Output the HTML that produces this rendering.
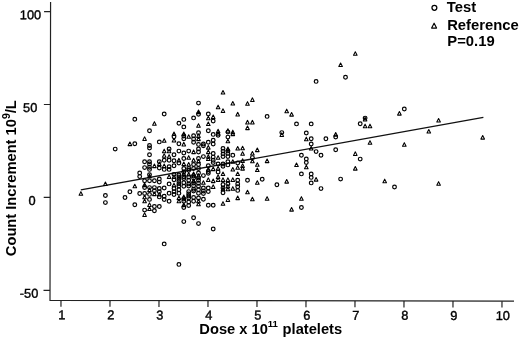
<!DOCTYPE html>
<html><head><meta charset="utf-8"><style>
html,body{margin:0;padding:0;background:#fff;overflow:hidden;}
svg{display:block;will-change:transform;}
text{font-family:"Liberation Sans",sans-serif;fill:#000;}
</style></head><body>
<svg width="520" height="339" viewBox="0 0 520 339">
<defs>
<circle id="c" r="1.85" fill="none" stroke="#000" stroke-width="1.2"/>
<path id="t" d="M0,-1.95 L1.8,1.6 L-1.8,1.6 Z" fill="none" stroke="#000" stroke-width="1.05" stroke-linejoin="round"/>
</defs>

<g transform="rotate(0.11 50 300.3)"><g stroke="#222" stroke-width="1.2" fill="none">
<path d="M50,2 V300.3 H514"/>
<path d="M43.5,11.7 H50"/>
<path d="M43.5,104.5 H50"/>
<path d="M43.5,197.4 H50"/>
<path d="M43.5,290.3 H50"/>
<path d="M61.0,300.3 V306.7"/>
<path d="M110.0,300.3 V306.7"/>
<path d="M159.0,300.3 V306.7"/>
<path d="M208.0,300.3 V306.7"/>
<path d="M257.0,300.3 V306.7"/>
<path d="M306.0,300.3 V306.7"/>
<path d="M355.0,300.3 V306.7"/>
<path d="M404.0,300.3 V306.7"/>
<path d="M453.0,300.3 V306.7"/>
<path d="M502.0,300.3 V306.7"/>
</g>
<g font-size="12.8" stroke="#000" stroke-width="0.4">
<text x="30" y="19.3" text-anchor="middle">100</text>
<text x="29.8" y="112.1" text-anchor="middle">50</text>
<text x="32" y="205.0" text-anchor="middle">0</text>
<text x="29" y="297.9" text-anchor="middle">-50</text>
<text x="61.9" y="319.2" text-anchor="middle">1</text>
<text x="110.9" y="319.2" text-anchor="middle">2</text>
<text x="159.9" y="319.2" text-anchor="middle">3</text>
<text x="208.9" y="319.2" text-anchor="middle">4</text>
<text x="257.9" y="319.2" text-anchor="middle">5</text>
<text x="306.9" y="319.2" text-anchor="middle">6</text>
<text x="355.9" y="319.2" text-anchor="middle">7</text>
<text x="404.9" y="319.2" text-anchor="middle">8</text>
<text x="453.9" y="319.2" text-anchor="middle">9</text>
<text x="502.9" y="319.2" text-anchor="middle">10</text>
</g></g>
<g font-size="14.7" font-weight="bold">
<text x="199.3" y="334.4">Dose x 10</text>
<text x="267.8" y="326.8" font-size="9.6">11</text>
<text x="282.6" y="334.4">platelets</text>
<text transform="translate(16.3,256.2) rotate(-90)">Count Increment 10<tspan font-size="10.4" dy="-6.6">9</tspan><tspan dy="6.6">/L</tspan></text>
</g>
<circle cx="434.4" cy="7.8" r="2.45" fill="none" stroke="#000" stroke-width="1.25"/>
<path transform="translate(434.1,25.9) scale(1.3)" d="M0,-2.05 L1.9,1.65 L-1.9,1.65 Z" fill="none" stroke="#000" stroke-width="0.9" stroke-linejoin="round"/>
<g font-size="14.8" font-weight="bold"><text x="446.8" y="11.5">Test</text><text x="447.2" y="29.8">Reference</text><text x="447.3" y="46.4">P=0.19</text></g>
<path d="M80.8,189.9 L483.4,117.3" stroke="#111" stroke-width="1.35" fill="none"/>
<g>
<use href="#c" x="134.8" y="119.3"/>
<use href="#c" x="164.2" y="114"/>
<use href="#c" x="198.5" y="103.1"/>
<use href="#c" x="198.5" y="114.2"/>
<use href="#c" x="193.6" y="117.9"/>
<use href="#c" x="208.3" y="113.9"/>
<use href="#c" x="183.8" y="119.4"/>
<use href="#c" x="316.1" y="81.4"/>
<use href="#c" x="345.5" y="77.3"/>
<use href="#c" x="267.1" y="116.4"/>
<use href="#c" x="404.3" y="109"/>
<use href="#c" x="365.1" y="118.1"/>
<use href="#c" x="149.5" y="130.7"/>
<use href="#c" x="134.8" y="143.7"/>
<use href="#c" x="159.3" y="141.9"/>
<use href="#c" x="178.9" y="123.2"/>
<use href="#c" x="183.8" y="126.9"/>
<use href="#c" x="198.5" y="132.7"/>
<use href="#c" x="174.0" y="136.7"/>
<use href="#c" x="183.8" y="136"/>
<use href="#c" x="183.8" y="138.8"/>
<use href="#c" x="193.6" y="135.8"/>
<use href="#c" x="193.6" y="139"/>
<use href="#c" x="193.6" y="142.2"/>
<use href="#c" x="178.9" y="143.7"/>
<use href="#c" x="198.5" y="144.4"/>
<use href="#c" x="213.2" y="121"/>
<use href="#c" x="208.3" y="130.7"/>
<use href="#c" x="213.2" y="134.4"/>
<use href="#c" x="218.1" y="135.3"/>
<use href="#c" x="227.9" y="132.1"/>
<use href="#c" x="227.9" y="137.1"/>
<use href="#c" x="208.3" y="142.2"/>
<use href="#c" x="213.2" y="140.3"/>
<use href="#c" x="213.2" y="144"/>
<use href="#c" x="203.4" y="144"/>
<use href="#c" x="296.5" y="123.9"/>
<use href="#c" x="311.2" y="123.9"/>
<use href="#c" x="281.8" y="132.6"/>
<use href="#c" x="306.3" y="133"/>
<use href="#c" x="311.2" y="138.8"/>
<use href="#c" x="311.2" y="144"/>
<use href="#c" x="360.2" y="123.8"/>
<use href="#c" x="325.9" y="138.8"/>
<use href="#c" x="335.7" y="137"/>
<use href="#c" x="149.5" y="145.5"/>
<use href="#c" x="149.5" y="148"/>
<use href="#c" x="149.5" y="154.8"/>
<use href="#c" x="144.6" y="161.7"/>
<use href="#c" x="149.5" y="161.7"/>
<use href="#c" x="149.5" y="164"/>
<use href="#c" x="149.5" y="167.2"/>
<use href="#c" x="149.5" y="169.4"/>
<use href="#c" x="144.6" y="167.6"/>
<use href="#c" x="159.3" y="161.7"/>
<use href="#c" x="159.3" y="168"/>
<use href="#c" x="115.2" y="149.1"/>
<use href="#c" x="164.2" y="160.3"/>
<use href="#c" x="164.2" y="169.4"/>
<use href="#c" x="169.1" y="148.9"/>
<use href="#c" x="169.1" y="160.3"/>
<use href="#c" x="169.1" y="166.7"/>
<use href="#c" x="169.1" y="169.4"/>
<use href="#c" x="174.0" y="154.8"/>
<use href="#c" x="174.0" y="160.8"/>
<use href="#c" x="174.0" y="165.8"/>
<use href="#c" x="178.9" y="151.1"/>
<use href="#c" x="178.9" y="163"/>
<use href="#c" x="183.8" y="153"/>
<use href="#c" x="183.8" y="158.5"/>
<use href="#c" x="183.8" y="168.5"/>
<use href="#c" x="188.7" y="151.1"/>
<use href="#c" x="188.7" y="168.5"/>
<use href="#c" x="193.6" y="164.4"/>
<use href="#c" x="193.6" y="168.5"/>
<use href="#c" x="198.5" y="148.9"/>
<use href="#c" x="198.5" y="152"/>
<use href="#c" x="198.5" y="158.5"/>
<use href="#c" x="198.5" y="164.4"/>
<use href="#c" x="198.5" y="168.5"/>
<use href="#c" x="203.4" y="145.7"/>
<use href="#c" x="203.4" y="156.6"/>
<use href="#c" x="208.3" y="165.8"/>
<use href="#c" x="213.2" y="153.4"/>
<use href="#c" x="213.2" y="157.1"/>
<use href="#c" x="213.2" y="160.3"/>
<use href="#c" x="213.2" y="162.6"/>
<use href="#c" x="218.1" y="164"/>
<use href="#c" x="223.0" y="148.4"/>
<use href="#c" x="223.0" y="151.1"/>
<use href="#c" x="223.0" y="153.9"/>
<use href="#c" x="223.0" y="156.6"/>
<use href="#c" x="223.0" y="164"/>
<use href="#c" x="223.0" y="166.2"/>
<use href="#c" x="227.9" y="151.1"/>
<use href="#c" x="227.9" y="153.4"/>
<use href="#c" x="227.9" y="156.6"/>
<use href="#c" x="227.9" y="161.7"/>
<use href="#c" x="227.9" y="164.9"/>
<use href="#c" x="232.8" y="155.3"/>
<use href="#c" x="237.7" y="163"/>
<use href="#c" x="252.4" y="157.6"/>
<use href="#c" x="316.1" y="151.6"/>
<use href="#c" x="321.0" y="155.3"/>
<use href="#c" x="301.4" y="155.3"/>
<use href="#c" x="306.3" y="158.9"/>
<use href="#c" x="306.3" y="162.6"/>
<use href="#c" x="335.7" y="149.8"/>
<use href="#c" x="360.2" y="159.1"/>
<use href="#c" x="139.7" y="172.9"/>
<use href="#c" x="139.7" y="176.6"/>
<use href="#c" x="139.7" y="193.5"/>
<use href="#c" x="144.6" y="180.7"/>
<use href="#c" x="144.6" y="187.5"/>
<use href="#c" x="144.6" y="193.5"/>
<use href="#c" x="149.5" y="174.8"/>
<use href="#c" x="149.5" y="180.7"/>
<use href="#c" x="149.5" y="187.6"/>
<use href="#c" x="149.5" y="194.4"/>
<use href="#c" x="154.4" y="180.7"/>
<use href="#c" x="154.4" y="187.6"/>
<use href="#c" x="154.4" y="190.8"/>
<use href="#c" x="159.3" y="178.9"/>
<use href="#c" x="159.3" y="182.1"/>
<use href="#c" x="159.3" y="188.5"/>
<use href="#c" x="159.3" y="191.7"/>
<use href="#c" x="159.3" y="196.9"/>
<use href="#c" x="129.9" y="191.7"/>
<use href="#c" x="164.2" y="188"/>
<use href="#c" x="164.2" y="196.3"/>
<use href="#c" x="164.2" y="199.5"/>
<use href="#c" x="169.1" y="183.9"/>
<use href="#c" x="169.1" y="193.3"/>
<use href="#c" x="174.0" y="174.4"/>
<use href="#c" x="174.0" y="179.8"/>
<use href="#c" x="174.0" y="188.6"/>
<use href="#c" x="174.0" y="191.6"/>
<use href="#c" x="174.0" y="194.5"/>
<use href="#c" x="178.9" y="175"/>
<use href="#c" x="178.9" y="179.2"/>
<use href="#c" x="178.9" y="183.9"/>
<use href="#c" x="178.9" y="189.8"/>
<use href="#c" x="178.9" y="193.3"/>
<use href="#c" x="183.8" y="176.8"/>
<use href="#c" x="183.8" y="182.7"/>
<use href="#c" x="183.8" y="186.3"/>
<use href="#c" x="188.7" y="170.3"/>
<use href="#c" x="188.7" y="180.3"/>
<use href="#c" x="188.7" y="183.9"/>
<use href="#c" x="188.7" y="191.6"/>
<use href="#c" x="188.7" y="193.9"/>
<use href="#c" x="188.7" y="198"/>
<use href="#c" x="193.6" y="178"/>
<use href="#c" x="193.6" y="185.7"/>
<use href="#c" x="193.6" y="189.2"/>
<use href="#c" x="193.6" y="197.5"/>
<use href="#c" x="198.5" y="180.3"/>
<use href="#c" x="198.5" y="183.3"/>
<use href="#c" x="198.5" y="186.3"/>
<use href="#c" x="198.5" y="189.8"/>
<use href="#c" x="198.5" y="193.3"/>
<use href="#c" x="198.5" y="198"/>
<use href="#c" x="203.4" y="175.6"/>
<use href="#c" x="203.4" y="188"/>
<use href="#c" x="203.4" y="199.2"/>
<use href="#c" x="208.3" y="171.5"/>
<use href="#c" x="208.3" y="173.3"/>
<use href="#c" x="208.3" y="188"/>
<use href="#c" x="208.3" y="191.6"/>
<use href="#c" x="218.1" y="172.1"/>
<use href="#c" x="223.0" y="184.5"/>
<use href="#c" x="223.0" y="188"/>
<use href="#c" x="223.0" y="192.7"/>
<use href="#c" x="227.9" y="183.9"/>
<use href="#c" x="237.7" y="180.3"/>
<use href="#c" x="237.7" y="183.9"/>
<use href="#c" x="237.7" y="186.8"/>
<use href="#c" x="237.7" y="190.4"/>
<use href="#c" x="247.5" y="180.3"/>
<use href="#c" x="262.2" y="179.2"/>
<use href="#c" x="276.9" y="184.8"/>
<use href="#c" x="301.4" y="173.9"/>
<use href="#c" x="311.2" y="173.9"/>
<use href="#c" x="311.2" y="177.4"/>
<use href="#c" x="311.2" y="182.9"/>
<use href="#c" x="321.0" y="188.6"/>
<use href="#c" x="340.6" y="179.1"/>
<use href="#c" x="394.5" y="187"/>
<use href="#c" x="105.4" y="195.5"/>
<use href="#c" x="105.4" y="202.6"/>
<use href="#c" x="125.0" y="197.5"/>
<use href="#c" x="134.8" y="204.8"/>
<use href="#c" x="144.6" y="210.1"/>
<use href="#c" x="149.5" y="199.4"/>
<use href="#c" x="154.4" y="206.5"/>
<use href="#c" x="154.4" y="210.7"/>
<use href="#c" x="159.3" y="206.5"/>
<use href="#c" x="169.1" y="201.2"/>
<use href="#c" x="183.8" y="201.2"/>
<use href="#c" x="183.8" y="207.5"/>
<use href="#c" x="188.7" y="202"/>
<use href="#c" x="188.7" y="205.5"/>
<use href="#c" x="193.6" y="201.2"/>
<use href="#c" x="208.3" y="205.3"/>
<use href="#c" x="213.2" y="205.3"/>
<use href="#c" x="193.6" y="217.7"/>
<use href="#c" x="183.8" y="221.6"/>
<use href="#c" x="198.5" y="223.6"/>
<use href="#c" x="213.2" y="229"/>
<use href="#c" x="164.2" y="243.9"/>
<use href="#c" x="178.9" y="264.4"/>
<use href="#c" x="178.9" y="177"/>
<use href="#c" x="178.9" y="181.5"/>
<use href="#c" x="178.9" y="186"/>
<use href="#c" x="183.8" y="172"/>
<use href="#c" x="183.8" y="178.5"/>
<use href="#c" x="183.8" y="199"/>
<use href="#c" x="188.7" y="177"/>
<use href="#c" x="188.7" y="186"/>
<use href="#c" x="188.7" y="196"/>
<use href="#c" x="193.6" y="176"/>
<use href="#c" x="193.6" y="183"/>
<use href="#c" x="193.6" y="191"/>
<use href="#c" x="198.5" y="173"/>
<use href="#c" x="198.5" y="178"/>
<use href="#c" x="203.4" y="191"/>
<use href="#c" x="203.4" y="193.5"/>
<use href="#c" x="301.4" y="207.5"/>
<use href="#t" x="355.3" y="53.7"/>
<use href="#t" x="340.6" y="64.9"/>
<use href="#t" x="223.0" y="92.4"/>
<use href="#t" x="232.8" y="103.4"/>
<use href="#t" x="218.1" y="107.1"/>
<use href="#t" x="223.0" y="110.8"/>
<use href="#t" x="237.7" y="114.3"/>
<use href="#t" x="198.5" y="112"/>
<use href="#t" x="208.3" y="118.1"/>
<use href="#t" x="213.2" y="117"/>
<use href="#t" x="252.4" y="99.8"/>
<use href="#t" x="247.5" y="103.6"/>
<use href="#t" x="286.7" y="111.1"/>
<use href="#t" x="291.6" y="114.5"/>
<use href="#t" x="399.4" y="113.5"/>
<use href="#t" x="365.1" y="119.3"/>
<use href="#t" x="438.6" y="120.4"/>
<use href="#t" x="154.4" y="123.6"/>
<use href="#t" x="144.6" y="138.8"/>
<use href="#t" x="129.9" y="144"/>
<use href="#t" x="198.5" y="125.7"/>
<use href="#t" x="174.0" y="133.9"/>
<use href="#t" x="174.0" y="140.3"/>
<use href="#t" x="183.8" y="133.9"/>
<use href="#t" x="188.7" y="136.7"/>
<use href="#t" x="198.5" y="135.8"/>
<use href="#t" x="198.5" y="139"/>
<use href="#t" x="164.2" y="140.6"/>
<use href="#t" x="183.8" y="144.3"/>
<use href="#t" x="208.3" y="123.9"/>
<use href="#t" x="218.1" y="131.2"/>
<use href="#t" x="218.1" y="133.5"/>
<use href="#t" x="227.9" y="130.7"/>
<use href="#t" x="227.9" y="141.2"/>
<use href="#t" x="232.8" y="132.1"/>
<use href="#t" x="232.8" y="134"/>
<use href="#t" x="247.5" y="122.3"/>
<use href="#t" x="252.4" y="122.3"/>
<use href="#t" x="247.5" y="128"/>
<use href="#t" x="281.8" y="134.8"/>
<use href="#t" x="306.3" y="139.1"/>
<use href="#t" x="365.1" y="126.1"/>
<use href="#t" x="370.0" y="126.1"/>
<use href="#t" x="335.7" y="134.5"/>
<use href="#t" x="370.0" y="142.6"/>
<use href="#t" x="428.8" y="131.4"/>
<use href="#t" x="404.3" y="144.6"/>
<use href="#t" x="482.7" y="137.5"/>
<use href="#t" x="154.4" y="166"/>
<use href="#t" x="159.3" y="164"/>
<use href="#t" x="164.2" y="151.1"/>
<use href="#t" x="164.2" y="155.7"/>
<use href="#t" x="164.2" y="166"/>
<use href="#t" x="169.1" y="151.1"/>
<use href="#t" x="169.1" y="156.6"/>
<use href="#t" x="178.9" y="160.3"/>
<use href="#t" x="183.8" y="164"/>
<use href="#t" x="188.7" y="157.6"/>
<use href="#t" x="188.7" y="164.4"/>
<use href="#t" x="193.6" y="152"/>
<use href="#t" x="193.6" y="160.3"/>
<use href="#t" x="198.5" y="161.2"/>
<use href="#t" x="208.3" y="147.5"/>
<use href="#t" x="208.3" y="152"/>
<use href="#t" x="208.3" y="156.6"/>
<use href="#t" x="208.3" y="158.9"/>
<use href="#t" x="208.3" y="169.4"/>
<use href="#t" x="213.2" y="169"/>
<use href="#t" x="218.1" y="157.6"/>
<use href="#t" x="218.1" y="168.5"/>
<use href="#t" x="227.9" y="148.9"/>
<use href="#t" x="232.8" y="161.7"/>
<use href="#t" x="232.8" y="169.4"/>
<use href="#t" x="237.7" y="148.4"/>
<use href="#t" x="237.7" y="167.6"/>
<use href="#t" x="242.6" y="148.2"/>
<use href="#t" x="242.6" y="153.7"/>
<use href="#t" x="257.3" y="150"/>
<use href="#t" x="252.4" y="153.4"/>
<use href="#t" x="252.4" y="161.2"/>
<use href="#t" x="242.6" y="160.8"/>
<use href="#t" x="242.6" y="165.8"/>
<use href="#t" x="242.6" y="168.5"/>
<use href="#t" x="267.1" y="161"/>
<use href="#t" x="257.3" y="164.7"/>
<use href="#t" x="257.3" y="169.9"/>
<use href="#t" x="311.2" y="148.4"/>
<use href="#t" x="306.3" y="167.2"/>
<use href="#t" x="296.5" y="164.9"/>
<use href="#t" x="355.3" y="153.8"/>
<use href="#t" x="355.3" y="168.5"/>
<use href="#t" x="144.6" y="185"/>
<use href="#t" x="149.5" y="176.1"/>
<use href="#t" x="149.5" y="189.9"/>
<use href="#t" x="154.4" y="194"/>
<use href="#t" x="159.3" y="194.4"/>
<use href="#t" x="134.8" y="186.2"/>
<use href="#t" x="169.1" y="176.8"/>
<use href="#t" x="174.0" y="176.8"/>
<use href="#t" x="174.0" y="185.1"/>
<use href="#t" x="178.9" y="198"/>
<use href="#t" x="183.8" y="173.9"/>
<use href="#t" x="183.8" y="196.9"/>
<use href="#t" x="188.7" y="174.4"/>
<use href="#t" x="193.6" y="173.9"/>
<use href="#t" x="193.6" y="181"/>
<use href="#t" x="198.5" y="175.6"/>
<use href="#t" x="203.4" y="182.7"/>
<use href="#t" x="208.3" y="179.8"/>
<use href="#t" x="213.2" y="181"/>
<use href="#t" x="213.2" y="186.8"/>
<use href="#t" x="218.1" y="176.8"/>
<use href="#t" x="218.1" y="179.8"/>
<use href="#t" x="223.0" y="173.9"/>
<use href="#t" x="223.0" y="179.8"/>
<use href="#t" x="223.0" y="189.2"/>
<use href="#t" x="227.9" y="179.8"/>
<use href="#t" x="227.9" y="186.3"/>
<use href="#t" x="227.9" y="189.2"/>
<use href="#t" x="227.9" y="199.8"/>
<use href="#t" x="232.8" y="179.8"/>
<use href="#t" x="232.8" y="188.6"/>
<use href="#t" x="237.7" y="173.9"/>
<use href="#t" x="237.7" y="198"/>
<use href="#t" x="247.5" y="192.2"/>
<use href="#t" x="252.4" y="199.2"/>
<use href="#t" x="257.3" y="182.7"/>
<use href="#t" x="286.7" y="181.5"/>
<use href="#t" x="267.1" y="198.6"/>
<use href="#t" x="301.4" y="198.6"/>
<use href="#t" x="316.1" y="179.5"/>
<use href="#t" x="384.7" y="181.1"/>
<use href="#t" x="438.6" y="183.6"/>
<use href="#t" x="105.4" y="183.9"/>
<use href="#t" x="80.9" y="193.6"/>
<use href="#t" x="144.6" y="197.1"/>
<use href="#t" x="144.6" y="201.2"/>
<use href="#t" x="144.6" y="214.8"/>
<use href="#t" x="149.5" y="204.8"/>
<use href="#t" x="149.5" y="208.9"/>
<use href="#t" x="178.9" y="201.2"/>
<use href="#t" x="183.8" y="205"/>
<use href="#t" x="198.5" y="201.2"/>
<use href="#t" x="198.5" y="204.2"/>
<use href="#t" x="223.0" y="203.6"/>
<use href="#t" x="291.6" y="209.5"/>
</g>
</svg></body></html>
